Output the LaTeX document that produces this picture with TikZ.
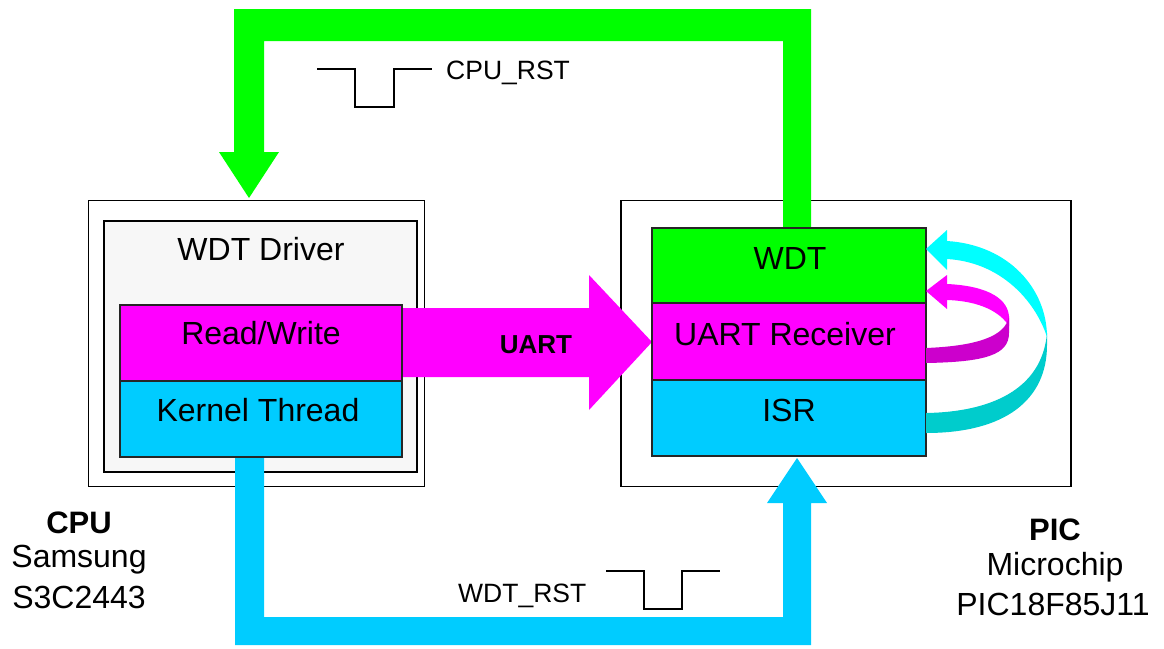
\documentclass[tikz,border=0pt]{standalone}
\usepackage{fontspec}
\setmainfont{Liberation Sans}
\begin{document}
\begin{tikzpicture}[x=1pt,y=-1pt,
  frame/.style={draw=black,line width=1.6pt,fill=white},
  sub/.style={draw=black!85,line width=1.4pt,minimum width=274pt,minimum height=76pt,inner sep=0pt},
  lbl/.style={font=\fontsize{32}{38}\selectfont,inner sep=0pt},
  sig/.style={font=\fontsize{26.5}{30}\selectfont,inner sep=0pt},
  pulse/.style={draw=black,line width=1.3pt}]
\useasboundingbox (0,0) rectangle (1164,648);
\definecolor{cgreen}{HTML}{00FF00}
\definecolor{cmag}{HTML}{FF00FF}
\definecolor{cdmag}{HTML}{CC00CC}
\definecolor{cblue}{HTML}{00CCFF}
\definecolor{ccyan}{HTML}{00FFFF}
\definecolor{cdcyan}{HTML}{00CCCC}
\definecolor{cgray}{HTML}{F7F7F7}
% outer boxes
\node[frame,minimum width=336pt,minimum height=286pt,inner sep=0pt] (cpu) at (256.5,343.5) {};
\node[frame,minimum width=450pt,minimum height=286pt,inner sep=0pt] (pic) at (846,343.5) {};
\node[draw=black,line width=1.6pt,fill=cgray,minimum width=313pt,minimum height=251pt,inner sep=0pt] (drv) at (260.5,346.5) {};
\node[lbl] (drvt) at (261,249) {WDT Driver};
% big arrows
\fill[cgreen] (783,228) -- (783,41) -- (264,41) -- (264,152) -- (279,152) -- (249,198) -- (219,152) -- (234,152) -- (234,9) -- (811,9) -- (811,228) -- cycle;
\fill[cblue] (235,457) -- (235,645) -- (811,645) -- (811,503) -- (827,503) -- (797,458) -- (767,503) -- (783,503) -- (783,617) -- (264,617) -- (264,457) -- cycle;
\fill[cmag] (400,308) -- (589,308) -- (589,275) -- (652,342) -- (589,410) -- (589,377) -- (400,377) -- cycle;
\node[font=\bfseries\fontsize{26}{30}\selectfont,inner sep=0pt] (uart) at (536,345) {UART};
% sub boxes
\node[sub,fill=cmag,minimum width=282pt] (rw) at (261,343) {};
\node[sub,fill=cblue,minimum width=282pt] (kt) at (261,419) {};
\node[sub,fill=cgreen] (wdt) at (789,266) {};
\node[sub,fill=cmag,minimum height=77pt] (urx) at (789,341.5) {};
\node[sub,fill=cblue] (isr) at (789,418) {};
\node[lbl] at (261,333) {Read/Write};
\node[lbl] at (258,410) {Kernel Thread};
\node[lbl] at (790,258) {WDT};
\node[lbl] at (785,334) {UART Receiver};
\node[lbl] at (789,410) {ISR};
% curved ribbons
\fill[cdcyan] (1047,333) .. controls (1042,390) and (990,412) .. (926,413) -- (926,433) .. controls (1005,433) and (1047,400) .. (1047,345) -- cycle;
\fill[ccyan] (947,241) .. controls (1010,245) and (1047,290) .. (1047,337) .. controls (1035,300) and (1000,262) .. (947,259) -- cycle;
\fill[ccyan] (947,230) -- (926,249) -- (947,270) -- cycle;
\fill[cmag] (947,284) .. controls (990,286) and (1009,300) .. (1009,318) -- (1009,326) .. controls (1000,312) and (980,301) .. (947,300) -- cycle;
\fill[cmag] (947,275) -- (926,291) -- (947,309) -- cycle;
\fill[cdmag] (1009,316) .. controls (1006,337) and (975,346) .. (926,348) -- (926,363) .. controls (985,362) and (1009,355) .. (1009,333) -- cycle;
% signals
\draw[pulse] (317,69) -- (355,69) -- (355,107) -- (394,107) -- (394,69) -- (432,69);
\node[sig,anchor=west] (cpurst) at (446,73) {CPU\_RST};
\draw[pulse] (606,571) -- (644,571) -- (644,609) -- (682,609) -- (682,571) -- (720,571);
\node[sig,anchor=west] (wdtrst) at (458,596) {WDT\_RST};
% labels
\node[font=\bfseries\fontsize{31}{36}\selectfont,inner sep=0pt] at (79,523) {CPU};
\node[lbl] at (79,560) {Samsung};
\node[lbl] at (79,597) {S3C2443};
\node[font=\bfseries\fontsize{31}{36}\selectfont,inner sep=0pt] at (1055,530) {PIC};
\node[lbl] at (1055,567) {Microchip};
\node[lbl] at (1053,604) {PIC18F85J11};
\end{tikzpicture}
\end{document}
